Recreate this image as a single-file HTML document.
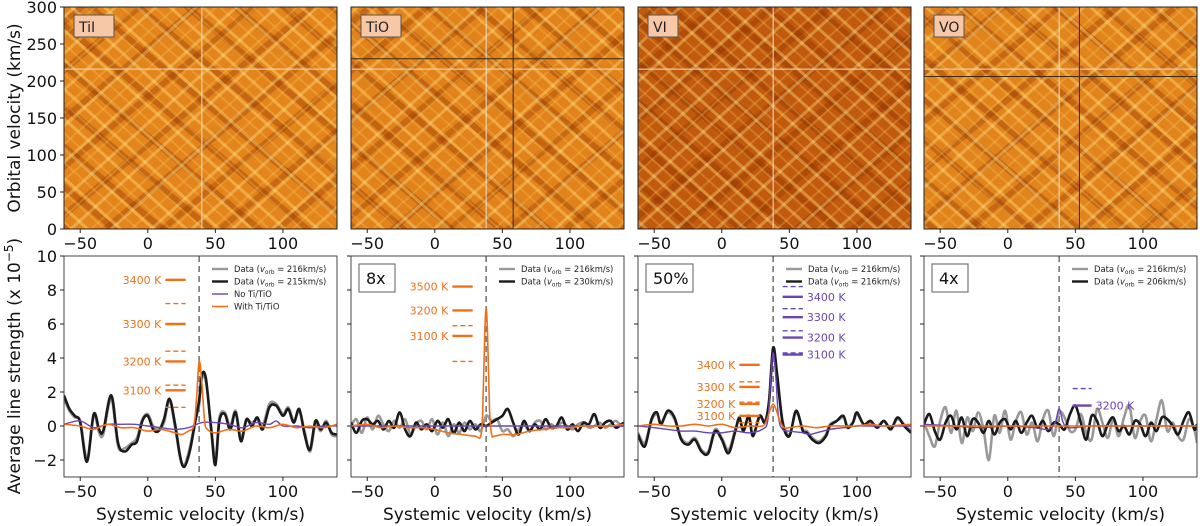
<!DOCTYPE html>
<html><head><meta charset="utf-8"><style>
html,body{margin:0;padding:0;background:#fff;}
svg{display:block;font-family:"DejaVu Sans","Liberation Sans",sans-serif;}
</style></head><body>
<svg id="fig" width="1200" height="526" viewBox="0 0 1200 526" xmlns="http://www.w3.org/2000/svg">
<defs>
<pattern id="lightA" width="22" height="22" patternUnits="userSpaceOnUse" patternTransform="rotate(42)"><rect width="22" height="3" fill="#ffe27a" opacity="0.4"/><rect y="11" width="22" height="2" fill="#ffd060" opacity="0.25"/></pattern>
<pattern id="lightB" width="27" height="27" patternUnits="userSpaceOnUse" patternTransform="rotate(-42)"><rect width="27" height="3" fill="#ffe890" opacity="0.35"/><rect y="14" width="27" height="2" fill="#ffd060" opacity="0.25"/></pattern>
<pattern id="darkA" width="31" height="31" patternUnits="userSpaceOnUse" patternTransform="rotate(40)"><rect y="6" width="31" height="6" fill="#8a2a00" opacity="0.35"/></pattern>
<pattern id="darkB" width="37" height="37" patternUnits="userSpaceOnUse" patternTransform="rotate(-40)"><rect y="18" width="37" height="6" fill="#8a2a00" opacity="0.3"/></pattern>
</defs>
</svg>
<script>
// ---------- data ----------
const xTicks = [-50, 0, 50, 100];
const yTicksBottom = [-2, 0, 2, 4, 6, 8, 10];
const yTicksTop = [0, 50, 100, 150, 200, 250, 300];
const panelLabels = ["TiI", "TiO", "VI", "VO"];
const insetLabels = ["", "8x", "50%", "4x"];
const blackVorb = [215, 230, 216, 206];
const grayVorb = [216, 216, 216, 216];

const p1x = [-62,-58,-54,-50,-45,-40,-36,-33,-27,-22,-17,-12,-8,-4,0,4,8,12,16,20,24,27,31,35,38,40,43,47,50,53,57,61,65,69,73,77,81,85,90,95,100,104,108,112,116,120,124,128,132,136,140];
const p1black = [1.8,1.0,0.6,0.2,-2.1,0.7,-0.2,-0.3,1.8,-1.0,-1.5,-1.1,-0.9,0.3,0.6,-0.2,-0.3,0.4,1.6,0.2,-1.8,-2.4,-1.5,0.2,1.5,3.0,2.8,-0.3,-2.3,0.3,0.7,-0.2,0.8,-0.9,0.4,0.0,0.5,-0.2,1.1,1.2,0.6,1.0,0.2,1.0,-0.5,-1.4,0.3,-0.2,0.2,-0.4,-0.5];
const p1gray = [1.6,0.9,0.5,0.3,-1.9,0.6,-0.4,-0.5,1.6,-1.2,-1.3,-1.0,-0.7,0.4,0.7,0.0,-0.2,0.2,1.5,0.0,-1.9,-2.3,-1.3,0.3,1.2,2.8,2.6,-0.1,-2.0,0.5,0.8,0.0,0.9,-0.7,0.3,0.2,0.4,0.0,1.3,1.3,0.7,1.1,0.3,0.9,-0.3,-1.5,0.1,-0.3,0.3,-0.5,-0.6];
const p1ox = [-62,-50,-40,-30,-20,-10,0,10,20,25,30,34,36,38,40,42,44,50,60,70,80,90,100,110,120,130,140];
const p1orange = [0.1,0.0,-0.2,0.1,-0.1,-0.1,-0.3,-0.2,-0.4,-0.5,-0.3,0.0,1.5,3.8,2.5,0.3,-0.2,-0.4,-0.2,-0.3,0.0,-0.1,0.1,-0.1,0.0,-0.1,0.1];
const p1px = [-62,-50,-40,-30,-20,-10,0,10,20,30,40,50,60,70,80,90,95,100,110,120,130,140];
const p1purple = [0.1,0.3,-0.1,0.1,0.1,0.1,0.0,-0.1,-0.2,-0.1,0.2,0.2,0.1,-0.1,0.2,0.1,0.3,0.0,0.0,-0.1,0.0,0.0];

const p2x = [-62,-58,-54,-50,-46,-42,-38,-34,-30,-26,-22,-18,-14,-10,-6,-2,2,6,10,14,18,22,26,30,34,38,42,46,50,54,58,62,66,70,74,78,82,86,90,94,98,102,106,110,114,118,122,126,130,134,138,140];
const p2black = [0.2,-0.4,0.3,0.4,0.1,0.3,-0.2,0.3,-0.1,0.8,-0.2,-0.6,0.2,-0.2,0.1,-0.3,0.3,-0.1,0.4,-0.4,0.2,-0.3,0.3,-0.2,0.1,0.0,0.2,0.4,0.6,1.0,0.2,-0.5,0.3,-0.3,0.1,-0.2,0.4,-0.1,0.0,0.5,-0.2,0.1,-0.3,0.2,0.1,0.7,-0.1,0.2,0.3,-0.1,0.1,0.2];
const p2gray = [0.0,0.4,-0.4,0.5,-0.2,0.6,0.1,-0.3,0.3,-0.1,0.4,-0.5,0.1,0.3,-0.2,0.4,-0.5,0.2,-0.6,0.1,-0.4,0.2,-0.2,0.1,-0.3,0.6,0.3,0.4,-0.3,-0.2,-0.6,-0.2,0.1,-0.3,0.2,0.3,-0.2,0.1,-0.1,0.2,0.0,-0.2,0.1,0.2,-0.1,0.0,0.2,-0.1,0.1,0.3,0.0,0.1];
const p2ox = [-62,-50,-40,-30,-20,-10,0,10,20,30,34,35.5,37,38,39,40.5,42,44,50,60,70,80,90,100,110,120,130,140];
const p2orange = [0.0,0.1,-0.1,0.0,-0.1,-0.1,-0.2,-0.4,-0.5,-0.6,-0.6,1.0,5.5,6.9,5.5,1.0,-0.5,-0.6,-0.5,-0.5,-0.3,-0.2,-0.1,-0.1,0.0,0.0,0.0,0.1];
const p2px = [-62,0,50,100,140];
const p2purple = [0.0,0.0,0.0,0.0,0.0];

const p3x = [-62,-57,-52,-48,-45,-40,-35,-30,-25,-20,-15,-10,-5,0,5,10,13,16,20,23,28,32,35,38,41,45,50,55,60,63,67,72,77,80,85,90,93,97,100,105,110,115,120,125,130,135,140];
const p3black = [-0.5,-1.2,0.4,0.8,0.1,0.9,0.5,-0.8,-1.1,-0.8,-1.5,-1.6,-0.3,-0.8,-1.6,-0.3,0.5,-0.3,0.6,-0.6,0.6,0.2,1.5,4.6,3.0,0.2,-0.6,0.9,-0.3,-0.4,-0.8,-1.0,-0.6,0.0,0.3,0.6,-0.1,0.2,0.8,0.1,0.3,-0.1,0.3,-0.2,0.5,0.0,-0.4];
const p3gray = [-0.4,-1.0,0.3,0.7,0.2,0.8,0.4,-0.7,-1.0,-0.7,-1.4,-1.5,-0.2,-0.7,-1.4,-0.2,0.4,-0.2,0.5,-0.5,0.5,0.3,1.4,4.3,2.8,0.3,-0.5,0.8,-0.2,-0.3,-0.7,-0.9,-0.5,0.1,0.3,0.5,0.0,0.2,0.7,0.1,0.2,0.0,0.3,-0.1,0.4,0.1,-0.3];
const p3px = [-62,-50,-40,-30,-20,-10,0,10,20,30,34,36,38,40,42,45,50,60,65,70,80,90,100,110,120,140];
const p3purple = [0.0,-0.1,-0.2,-0.3,-0.3,-0.4,-0.4,-0.3,-0.4,-0.2,0.3,2.5,4.3,2.8,0.5,-0.2,-0.3,-0.4,-0.5,-0.4,-0.2,-0.1,0.0,0.0,0.0,0.0];
const p3ox = [-62,-50,-40,-30,-20,-10,0,10,20,30,33,36,38,40,43,46,50,60,70,80,90,100,110,120,140];
const p3orange = [0.0,0.1,0.0,0.0,0.1,0.0,0.1,-0.1,0.0,0.0,0.3,1.0,1.3,1.0,0.3,-0.1,-0.1,0.0,-0.1,0.0,0.0,0.0,0.1,0.0,0.1];

const p4x = p2x;
const p4black = [0.1,0.7,-0.3,-0.8,0.2,0.6,-0.2,0.5,-0.6,0.4,0.2,-0.4,0.3,-0.5,0.2,0.4,-0.2,0.3,-0.4,0.2,0.6,-0.1,0.3,-0.3,0.2,0.1,-0.2,0.7,1.2,0.2,-0.8,0.6,0.3,-0.6,0.1,0.5,-0.3,0.0,-0.5,0.3,0.1,-0.6,0.2,-0.3,0.5,0.4,0.0,-0.5,0.3,0.8,-0.2,0.1];
const p4gray = [0.2,-0.6,-1.2,0.3,1.1,-0.4,0.9,-1.0,0.5,-0.3,0.8,-0.2,-2.0,0.6,-0.4,0.9,-0.8,0.3,0.8,-0.5,0.2,-0.9,0.4,0.9,-0.6,0.8,0.5,-0.3,-0.2,0.7,-0.4,-0.8,1.0,0.2,-0.7,0.4,-0.6,0.5,1.2,-0.7,0.3,0.6,-0.9,0.4,1.5,-0.3,0.2,-0.6,-0.8,0.4,-0.2,-1.0];
const p4px = [-62,-40,-20,0,20,30,35,38,41,45,60,80,100,120,140];
const p4purple = [0.1,0.0,-0.1,0.0,-0.1,-0.2,0.2,1.0,0.2,-0.1,0.0,0.0,0.0,0.0,0.0];
const p4ox = [-62,0,50,100,140];
const p4orange = [0.0,0.0,0.0,0.0,0.0];

// temperature markers: [value, label, dashed]
const t1orange = [[8.6,"3400 K",0],[7.2,"",1],[6.0,"3300 K",0],[4.4,"",1],[3.8,"3200 K",0],[2.4,"",1],[2.1,"3100 K",0],[1.1,"",1]];
const t2orange = [[8.2,"3500 K",0],[6.8,"3200 K",0],[5.9,"",1],[5.3,"3100 K",0],[3.8,"",1]];
const t3orange = [[3.6,"3400 K",0],[2.6,"",1],[2.3,"3300 K",0],[1.4,"",1],[1.3,"3200 K",0],[0.6,"3100 K",0],[0.2,"",1]];
const t3purple = [[8.2,"",1],[7.6,"3400 K",0],[6.9,"",1],[6.4,"3300 K",0],[5.6,"",1],[5.2,"3200 K",0],[4.3,"",1],[4.2,"3100 K",0]];
const t4purple = [[2.2,"",1],[1.2,"3200 K",0]];

// heatmap crosshair markers: [vsys, vorb]
const cross = [[[40,216]],[[38,216],[58,230]],[[38,216]],[[38,216],[53,206]]];

// ---------- drawing ----------
const NS = "http://www.w3.org/2000/svg";
const svg = document.getElementById("fig");
function mk(tag, attrs, parent){ const e=document.createElementNS(NS,tag); for(const k in attrs) e.setAttribute(k,attrs[k]); (parent||svg).appendChild(e); return e; }
const lefts = [64, 351, 638, 924];
const W = 273;
const TOP = {y0:7, y1:229}, BOT = {y0:256, y1:477};
const XMIN=-62, XMAX=140;
function sx(i,v){ return lefts[i] + (v-XMIN)/(XMAX-XMIN)*W; }
function syB(v){ return BOT.y1 - (v+3)/13*(BOT.y1-BOT.y0); }
function syT(v){ return TOP.y1 - v/300*(TOP.y1-TOP.y0); }
function smooth(pts){
  let d = "M"+pts[0][0].toFixed(1)+","+pts[0][1].toFixed(1);
  for(let i=0;i<pts.length-1;i++){
    const p0=pts[Math.max(0,i-1)],p1=pts[i],p2=pts[i+1],p3=pts[Math.min(pts.length-1,i+2)];
    const c1=[p1[0]+(p2[0]-p0[0])/6,p1[1]+(p2[1]-p0[1])/6], c2=[p2[0]-(p3[0]-p1[0])/6,p2[1]-(p3[1]-p1[1])/6];
    d+="C"+c1[0].toFixed(1)+","+c1[1].toFixed(1)+" "+c2[0].toFixed(1)+","+c2[1].toFixed(1)+" "+p2[0].toFixed(1)+","+p2[1].toFixed(1);
  }
  return d;
}
const series = [
 {x:[p1x,p1x,p1px,p1ox], y:[p1gray,p1black,p1purple,p1orange]},
 {x:[p2x,p2x,p2px,p2ox], y:[p2gray,p2black,p2purple,p2orange]},
 {x:[p3x,p3x,p3px,p3ox], y:[p3gray,p3black,p3purple,p3orange]},
 {x:[p4x,p4x,p4px,p4ox], y:[p4gray,p4black,p4purple,p4orange]}
];
const sStyle = [["#999",2.6,"gray-data-line"],["#1a1a1a",2.6,"black-data-line"],["#6a45b5",1.4,"no-ti-tio-model-line"],["#f07018",1.6,"with-ti-tio-model-line"]];
const temps = [[t1orange,null],[t2orange,null],[t3orange,t3purple],[null,t4purple]];
const heatBase = ["#e4851c","#e2821a","#c25a0e","#e2841c"];

for(let i=0;i<4;i++){
  const L=lefts[i];
  const gT = mk("g",{});
  
  
  mk("clipPath",{id:"ct"+i},gT); mk("rect",{x:L,y:TOP.y0,width:W,height:TOP.y1-TOP.y0},gT.lastChild);
  const hg = mk("g",{"clip-path":"url(#ct"+i+")"},gT);
  mk("rect",{x:L,y:TOP.y0,width:W,height:TOP.y1-TOP.y0,fill:heatBase[i]},hg);
  ["darkA","darkB","lightA","lightB"].forEach(p=>mk("rect",{x:L-50,y:TOP.y0-50,width:W+100,height:TOP.y1-TOP.y0+100,fill:"url(#"+p+")"},hg));
  cross[i].forEach((c,k)=>{
    const h = mk("line",{x1:L,x2:L+W,y1:syT(c[1]),y2:syT(c[1]),stroke:k?"#3a2a10":"#e8e0d0","stroke-width":1},hg);
    
    
    const v = mk("line",{x1:sx(i,c[0]),x2:sx(i,c[0]),y1:TOP.y0,y2:TOP.y1,stroke:k?"#3a2a10":"#e8e0d0","stroke-width":1},hg);
    
    
  });
  mk("rect",{x:L,y:TOP.y0,width:W,height:TOP.y1-TOP.y0,fill:"none",stroke:"#222","stroke-width":1},gT);
  const lb = mk("g",{},gT);
  
  
  mk("rect",{x:L+10,y:15,width:panelLabels[i].length*10+10,height:22,fill:"#f6c8a8",stroke:"#555","stroke-width":1},lb);
  const lt = mk("text",{x:L+15,y:32,"font-size":14,fill:"#222"},lb); lt.textContent=panelLabels[i];
  xTicks.forEach(t=>{
    mk("line",{x1:sx(i,t),x2:sx(i,t),y1:TOP.y1,y2:TOP.y1+4,stroke:"#222"},gT);
    const tx=mk("text",{x:sx(i,t),y:TOP.y1+20,"font-size":16,"text-anchor":"middle",fill:"#111"},gT); tx.textContent=t<0?"\u2212"+(-t):t;
    
    
  });
  if(i===0){ yTicksTop.forEach(t=>{
    mk("line",{x1:L-4,x2:L,y1:syT(t),y2:syT(t),stroke:"#222"},gT);
    const tx=mk("text",{x:L-7,y:syT(t)+6,"font-size":16,"text-anchor":"end",fill:"#111"},gT); tx.textContent=t;
    
    
  });}

  const gB = mk("g",{});
  
  
  mk("clipPath",{id:"cb"+i},gB); mk("rect",{x:L,y:BOT.y0,width:W,height:BOT.y1-BOT.y0},gB.lastChild);
  const pg = mk("g",{"clip-path":"url(#cb"+i+")"},gB);
  const vl = mk("line",{x1:sx(i,38),x2:sx(i,38),y1:BOT.y0,y2:BOT.y1,stroke:"#777","stroke-width":1.6,"stroke-dasharray":"6,4"},pg);
  
  
  for(let s=0;s<4;s++){
    const xs=series[i].x[s], ys=series[i].y[s];
    const pts = xs.map((x,k)=>[sx(i,x),syB(ys[k])]);
    const p = mk("path",{d:smooth(pts),fill:"none",stroke:sStyle[s][0],"stroke-width":sStyle[s][1],"stroke-linejoin":"round"},pg);
    
    
  }
  const [to,tp]=temps[i];
  if(to) to.forEach(m=>{
    const y=syB(m[0]);
    const ln=mk("line",{x1:sx(i,13),x2:sx(i,28),y1:y,y2:y,stroke:"#f07018","stroke-width":m[2]?1.4:2.4,"stroke-dasharray":m[2]?"5,3":"none"},gB);
    
    
    if(m[1]){const t=mk("text",{x:sx(i,10),y:y+4,"font-size":11,"text-anchor":"end",fill:"#f07018"},gB); t.textContent=m[1];
       }
  });
  if(tp) tp.forEach(m=>{
    const y=syB(m[0]); const x0=i===3?48:45, x1=i===3?62:60;
    const ln=mk("line",{x1:sx(i,x0),x2:sx(i,x1),y1:y,y2:y,stroke:"#6a45b5","stroke-width":m[2]?1.4:2.4,"stroke-dasharray":m[2]?"5,3":"none"},gB);
    
    
    if(m[1]){const t=mk("text",{x:sx(i,x1+3),y:y+4,"font-size":11,fill:"#6a45b5"},gB); t.textContent=m[1];
       }
  });
  mk("rect",{x:L,y:BOT.y0,width:W,height:BOT.y1-BOT.y0,fill:"none",stroke:"#444","stroke-width":1},gB);
  xTicks.forEach(t=>{
    mk("line",{x1:sx(i,t),x2:sx(i,t),y1:BOT.y1,y2:BOT.y1+4,stroke:"#222"},gB);
    const tx=mk("text",{x:sx(i,t),y:BOT.y1+20,"font-size":16,"text-anchor":"middle",fill:"#111"},gB); tx.textContent=t<0?"\u2212"+(-t):t;
    
    
  });
  const xt=mk("text",{x:L+W/2,y:520,"font-size":17,"text-anchor":"middle",fill:"#111"},gB); xt.textContent="Systemic velocity (km/s)";
  
  
  yTicksBottom.forEach(t=>{
    mk("line",{x1:L-4,x2:L,y1:syB(t),y2:syB(t),stroke:"#222"},gB);
    if(i===0){const tx=mk("text",{x:L-7,y:syB(t)+6,"font-size":16,"text-anchor":"end",fill:"#111"},gB); tx.textContent=t<0?"\u2212"+(-t):t;
       }
  });
  if(insetLabels[i]){
    const ib=mk("g",{},gB);
    
    
    const w=insetLabels[i].length*11+14;
    mk("rect",{x:L+8,y:BOT.y0+8,width:w,height:28,fill:"#fff",stroke:"#777","stroke-width":1.2},ib);
    const t=mk("text",{x:L+15,y:BOT.y0+28,"font-size":16,fill:"#111"},ib); t.textContent=insetLabels[i];
  }
  const lg=mk("g",{},gB);
  
  
  const entries=[["#999",2.4,"Data (v","orb"," = "+grayVorb[i]+"km/s)"],["#1a1a1a",2.4,"Data (v","orb"," = "+blackVorb[i]+"km/s)"]];
  if(i===0){entries.push(["#6a45b5",1.4,"No Ti/TiO"]);entries.push(["#f07018",1.6,"With Ti/TiO"]);}
  entries.forEach((e,k)=>{
    const y=BOT.y0+13+k*12.5, lx=L+W-125;
    const ln=mk("line",{x1:lx,x2:lx+16,y1:y,y2:y,stroke:e[0],"stroke-width":e[1]},lg);
    
    
    const t=mk("text",{x:lx+22,y:y+3.2,"font-size":8.4,fill:"#222"},lg);
    
    
    if(e.length>3){
      t.appendChild(document.createTextNode("Data ("));
      const it=mk("tspan",{"font-style":"italic"},t); it.textContent="v";
      const sb=mk("tspan",{"font-size":5.8,dy:2},t); sb.textContent="orb";
      const rest=mk("tspan",{dy:-2},t); rest.textContent=e[4];
    } else t.textContent=e[2];
  });
}
const yt1=mk("text",{x:20,y:118,"font-size":17,"text-anchor":"middle",fill:"#111",transform:"rotate(-90 20 118)"});
yt1.textContent="Orbital velocity (km/s)";


const yt2=mk("text",{x:20,y:366,"font-size":17,"text-anchor":"middle",fill:"#111",transform:"rotate(-90 20 366)"});
yt2.appendChild(document.createTextNode("Average line strength (x 10"));
const sup=mk("tspan",{"font-size":12,dy:-7},yt2); sup.textContent="\u22125";
const cl=mk("tspan",{dy:7},yt2); cl.textContent=")";


</script>
</body></html>
